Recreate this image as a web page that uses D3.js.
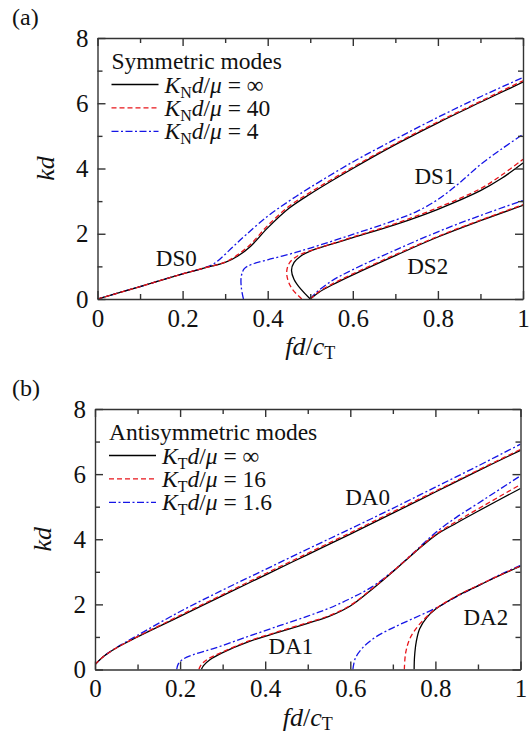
<!DOCTYPE html>
<html>
<head>
<meta charset="utf-8">
<style>
  body { margin: 0; background: #fff; }
  svg { display: block; font-family: "Liberation Serif", "DejaVu Serif", serif; }
  text { font-family: "Liberation Serif", "DejaVu Serif", serif; fill: #111; }
</style>
</head>
<body>
<div id="chart"></div>
<script src="https://d3js.org/d3.v7.min.js"></script>
<script>
// tick values
const fdTicks = [0, 0.2, 0.4, 0.6, 0.8, 1];
const kdTicks = [0, 2, 4, 6, 8];
const fdMinor = [0.1, 0.3, 0.5, 0.7, 0.9];
const kdMinor = [1, 3, 5, 7];

// legend values
const symK = ["\u221E", "40", "4"];
const antiK = ["\u221E", "16", "1.6"];

// (a) symmetric modes, [fd/cT, kd]
const ds0Inf = [[0,0],[0.1,0.38],[0.2,0.77],[0.25,0.95],[0.3,1.12],[0.33,1.32],[0.36,1.62],[0.4,2.18],[0.45,2.78],[0.5,3.22],[0.6,4.0],[0.7,4.73],[0.8,5.4],[0.9,6.03],[1.0,6.65]];
const ds0K40 = [[0,0],[0.1,0.38],[0.2,0.77],[0.25,0.95],[0.3,1.13],[0.33,1.36],[0.36,1.68],[0.4,2.25],[0.45,2.84],[0.5,3.27],[0.6,4.04],[0.7,4.76],[0.8,5.43],[0.9,6.06],[1.0,6.69]];
const ds0K4 = [[0,0],[0.1,0.38],[0.2,0.77],[0.25,0.95],[0.27,1.05],[0.29,1.25],[0.32,1.62],[0.35,1.98],[0.4,2.54],[0.45,3.0],[0.5,3.42],[0.6,4.2],[0.7,4.9],[0.8,5.57],[0.9,6.2],[1.0,6.79]];

const ds1Inf = [[0.5,0],[0.478,0.3],[0.462,0.6],[0.456,0.88],[0.462,1.12],[0.478,1.32],[0.5,1.47],[0.55,1.68],[0.6,1.88],[0.7,2.28],[0.8,2.75],[0.9,3.32],[0.95,3.7],[1.0,4.17]];
const ds1K40 = [[0.48,0],[0.458,0.3],[0.447,0.6],[0.445,0.88],[0.452,1.12],[0.47,1.32],[0.5,1.48],[0.55,1.69],[0.6,1.9],[0.7,2.31],[0.8,2.8],[0.9,3.38],[0.95,3.8],[1.0,4.28]];
const ds1K4 = [[0.343,0],[0.338,0.35],[0.338,0.7],[0.345,0.93],[0.36,1.05],[0.4,1.2],[0.45,1.37],[0.5,1.56],[0.6,1.98],[0.7,2.42],[0.75,2.68],[0.8,3.05],[0.85,3.55],[0.9,4.12],[0.95,4.6],[1.0,5.05]];

const ds2Inf = [[0.5,0],[0.52,0.2],[0.55,0.42],[0.6,0.74],[0.7,1.33],[0.8,1.9],[0.9,2.4],[1.0,2.87]];
const ds2K40 = [[0.5,0],[0.52,0.22],[0.55,0.45],[0.6,0.77],[0.7,1.36],[0.8,1.92],[0.9,2.42],[1.0,2.89]];
const ds2K4 = [[0.5,0],[0.51,0.15],[0.55,0.55],[0.6,0.9],[0.7,1.5],[0.8,2.06],[0.9,2.56],[1.0,3.02]];

// (b) antisymmetric modes
const da0Inf = [[0,0.15],[0.02,0.4],[0.05,0.66],[0.1,1.0],[0.2,1.63],[0.3,2.27],[0.4,2.9],[0.5,3.53],[0.6,4.16],[0.7,4.8],[0.8,5.45],[0.9,6.1],[1.0,6.73]];
const da0K16 = [[0,0.15],[0.02,0.4],[0.05,0.66],[0.1,1.01],[0.2,1.66],[0.3,2.3],[0.4,2.94],[0.5,3.57],[0.6,4.2],[0.7,4.84],[0.8,5.48],[0.9,6.12],[1.0,6.76]];
const da0K16b = [[0,0.15],[0.02,0.4],[0.05,0.67],[0.1,1.05],[0.2,1.78],[0.3,2.44],[0.4,3.07],[0.5,3.7],[0.6,4.32],[0.7,4.95],[0.8,5.6],[0.9,6.25],[1.0,6.92]];

const da1Inf = [[0.25,0],[0.255,0.12],[0.27,0.3],[0.3,0.52],[0.36,0.85],[0.43,1.14],[0.5,1.42],[0.55,1.63],[0.6,1.95],[0.65,2.45],[0.7,3.0],[0.75,3.58],[0.8,4.12],[0.85,4.5],[0.9,4.86],[1.0,5.56]];
const da1K16 = [[0.244,0],[0.25,0.15],[0.265,0.32],[0.3,0.54],[0.36,0.87],[0.43,1.16],[0.5,1.44],[0.55,1.65],[0.6,1.97],[0.65,2.47],[0.7,3.01],[0.75,3.59],[0.8,4.14],[0.85,4.55],[0.9,4.93],[1.0,5.68]];
const da1K16b = [[0.192,0],[0.195,0.15],[0.205,0.3],[0.23,0.45],[0.28,0.65],[0.35,0.97],[0.43,1.33],[0.5,1.64],[0.55,1.88],[0.6,2.18],[0.65,2.53],[0.7,3.02],[0.75,3.6],[0.8,4.2],[0.85,4.68],[0.9,5.1],[1.0,5.95]];

const da2Inf = [[0.75,0],[0.751,0.4],[0.755,0.85],[0.763,1.25],[0.78,1.6],[0.8,1.85],[0.85,2.25],[0.9,2.57],[0.95,2.88],[1.0,3.17]];
const da2K16 = [[0.727,0],[0.73,0.5],[0.74,0.95],[0.757,1.3],[0.78,1.63],[0.8,1.86],[0.85,2.26],[0.9,2.58],[0.95,2.89],[1.0,3.18]];
const da2K16b = [[0.606,0],[0.612,0.35],[0.63,0.68],[0.66,1.0],[0.7,1.28],[0.75,1.58],[0.8,1.88],[0.85,2.24],[0.9,2.57],[0.95,2.9],[1.0,3.2]];

const styles = [
  {color: "#000", dash: null},
  {color: "#e8141a", dash: "5,3"},
  {color: "#1515e6", dash: "7,2.5,2,2.5"}
];

const serif = '"Liberation Serif", "DejaVu Serif", serif';
const W = 531, H = 733;
const svg = d3.select("#chart").append("svg")
    .attr("width", W)
    .attr("height", H);

function drawPanel(p) {
  const x = d3.scaleLinear().domain([0, 1]).range([p.left, p.left + p.width]);
  const y = d3.scaleLinear().domain([0, 8]).range([p.top + p.height, p.top]);
  const g = svg.append("g");

  const clipId = "clip" + p.tag;
  g.append("clipPath").attr("id", clipId)
    .append("rect")
      .attr("x", p.left).attr("y", p.top)
      .attr("width", p.width).attr("height", p.height);

  // curves
  const line = d3.line()
      .x(d => x(d[0]))
      .y(d => y(d[1]))
      .curve(d3.curveCatmullRom.alpha(0.5));

  const curves = g.append("g").attr("clip-path", `url(#${clipId})`);
  [2, 0, 1].forEach(k => {
    p.modes.forEach(m => {
      curves.append("path")
        .attr("d", line(m[k]))
        .attr("fill", "none")
        .attr("stroke", styles[k].color)
        .attr("stroke-width", 1.3)
        .attr("stroke-dasharray", styles[k].dash);
    });
  });

  // axes, ticks pointing inward on all four sides
  const axisStyle = sel => sel.attr("font-family", null)
      .selectAll("path,line").attr("stroke", "#333").attr("stroke-width", 1.4);
  const labelStyle = sel => sel.selectAll("text")
      .attr("font-size", 25).style("font-family", serif).attr("fill", "#111");

  g.append("g")
      .attr("transform", `translate(0,${p.top + p.height})`)
      .call(d3.axisBottom(x).tickValues(fdTicks).tickSizeInner(-8).tickSizeOuter(0).tickPadding(10).tickFormat(d => d))
      .call(axisStyle).call(labelStyle);
  g.append("g")
      .attr("transform", `translate(0,${p.top + p.height})`)
      .call(d3.axisBottom(x).tickValues(fdMinor).tickSize(-5).tickFormat(""))
      .call(axisStyle).call(a => a.select(".domain").remove());
  g.append("g")
      .attr("transform", `translate(0,${p.top})`)
      .call(d3.axisTop(x).tickValues(fdTicks).tickSizeInner(-8).tickSizeOuter(0).tickFormat(""))
      .call(axisStyle);
  g.append("g")
      .attr("transform", `translate(0,${p.top})`)
      .call(d3.axisTop(x).tickValues(fdMinor).tickSize(-5).tickFormat(""))
      .call(axisStyle).call(a => a.select(".domain").remove());
  g.append("g")
      .attr("transform", `translate(${p.left},0)`)
      .call(d3.axisLeft(y).tickValues(kdTicks).tickSizeInner(-8).tickSizeOuter(0).tickPadding(9))
      .call(axisStyle).call(labelStyle);
  g.append("g")
      .attr("transform", `translate(${p.left},0)`)
      .call(d3.axisLeft(y).tickValues(kdMinor).tickSize(-5).tickFormat(""))
      .call(axisStyle).call(a => a.select(".domain").remove());
  g.append("g")
      .attr("transform", `translate(${p.left + p.width},0)`)
      .call(d3.axisRight(y).tickValues(kdTicks).tickSizeInner(-8).tickSizeOuter(0).tickFormat(""))
      .call(axisStyle);
  g.append("g")
      .attr("transform", `translate(${p.left + p.width},0)`)
      .call(d3.axisRight(y).tickValues(kdMinor).tickSize(-5).tickFormat(""))
      .call(axisStyle).call(a => a.select(".domain").remove());

  // axis titles
  g.append("text")
      .attr("transform", `translate(${p.left - 53},${y(4)}) rotate(-90)`)
      .attr("text-anchor", "middle")
      .attr("dy", "0.35em")
      .attr("font-size", 26)
      .attr("font-style", "italic")
      .text("kd");
  const xt = g.append("text")
      .attr("x", x(0.5))
      .attr("y", p.top + p.height + 56)
      .attr("text-anchor", "middle")
      .attr("font-size", 26);
  xt.append("tspan").attr("font-style", "italic").text("fd");
  xt.append("tspan").text("/");
  xt.append("tspan").attr("font-style", "italic").text("c");
  xt.append("tspan").attr("font-size", 18).attr("dy", 4).text("T");

  // panel tag
  g.append("text")
      .attr("x", 12)
      .attr("y", p.top - 13)
      .attr("font-size", 24)
      .text(`(${p.tag})`);

  // mode labels
  p.labels.forEach(l => {
    g.append("text")
        .attr("x", x(l[1]))
        .attr("y", y(l[2]))
        .attr("font-size", 23)
        .text(l[0]);
  });

  // legend
  const lx = p.left + 14;
  g.append("text")
      .attr("x", lx)
      .attr("y", p.top + 31)
      .attr("font-size", 23.5)
      .text(p.title);
  p.legend.forEach((v, i) => {
    const ly = p.top + 46.5 + i * 23.4;
    g.append("line")
        .attr("x1", lx).attr("x2", lx + 47)
        .attr("y1", ly).attr("y2", ly)
        .attr("stroke", styles[i].color)
        .attr("stroke-width", 1.3)
        .attr("stroke-dasharray", styles[i].dash);
    const t = g.append("text")
        .attr("x", lx + 53)
        .attr("y", ly + 8)
        .attr("font-size", 23.5);
    t.append("tspan").attr("font-style", "italic").text("K");
    t.append("tspan").attr("font-size", 16).attr("dy", 5).text(p.sub);
    t.append("tspan").attr("font-style", "italic").attr("dy", -5).text("d");
    t.append("tspan").text("/");
    t.append("tspan").attr("font-style", "italic").text("\u03BC");
    t.append("tspan").text(" = " + v);
  });
}

drawPanel({
  tag: "a", left: 97.5, top: 38, width: 425.5, height: 261,
  title: "Symmetric modes", sub: "N", legend: symK,
  modes: [[ds0Inf, ds0K40, ds0K4], [ds1Inf, ds1K40, ds1K4], [ds2Inf, ds2K40, ds2K4]],
  labels: [["DS0", 0.137, 1.0], ["DS1", 0.745, 3.52], ["DS2", 0.728, 0.78]]
});

drawPanel({
  tag: "b", left: 95, top: 409, width: 425.5, height: 260.5,
  title: "Antisymmetric modes", sub: "T", legend: antiK,
  modes: [[da0Inf, da0K16, da0K16b], [da1Inf, da1K16, da1K16b], [da2Inf, da2K16, da2K16b]],
  labels: [["DA0", 0.588, 5.05], ["DA1", 0.408, 0.49], ["DA2", 0.866, 1.37]]
});
</script>
</body>
</html>
